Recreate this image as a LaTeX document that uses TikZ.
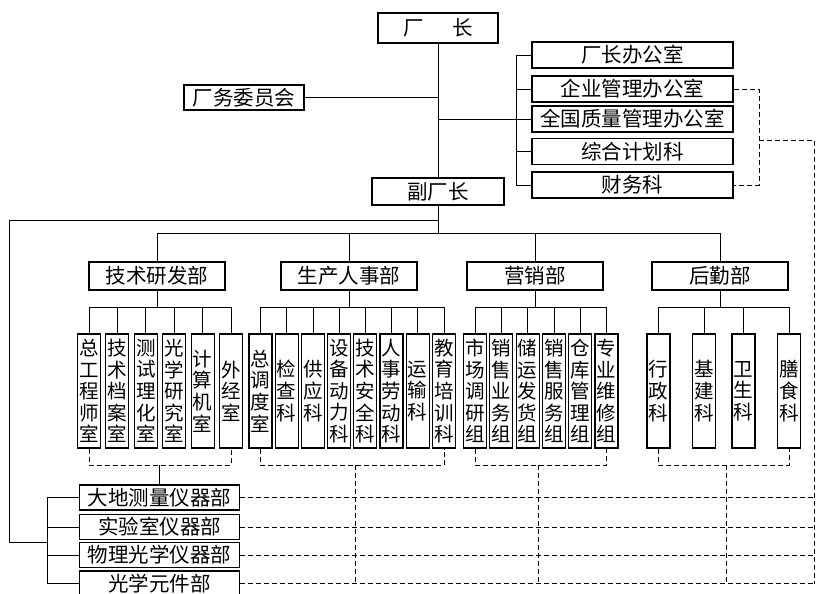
\documentclass[tikz,border=0pt]{standalone}
\usepackage{fontspec}
\newfontfamily\cjk{Noto Sans CJK SC}
\begin{document}
\begin{tikzpicture}[x=1pt,y=-1pt,
  box/.style={draw, line width=1.1pt, inner sep=0pt, font=\cjk\fontsize{20.5}{24}\selectfont},
  vbox/.style={draw, line width=1.1pt, minimum width=23pt, minimum height=114pt, inner sep=0pt, align=center, font=\cjk\fontsize{19.5}{21.6}\selectfont},
  dept/.style={box, minimum width=136pt, minimum height=28pt},
  rbox/.style={box, minimum width=201pt, minimum height=26pt},
  gbox/.style={box, minimum width=160pt, minimum height=25pt},
  conn/.style={line width=0.8pt},
  dsh/.style={line width=0.8pt, dash pattern=on 5pt off 3pt}]
\fill[white] (0,0) rectangle (820,594);
\useasboundingbox (0,0) rectangle (820,594);
% top level
\node[box, minimum width=120pt, minimum height=30pt] (cz) at (438,28) {厂\hspace{1.4em}长};
\node[box, minimum width=132pt, minimum height=27pt] (fcz) at (438,191.5) {副厂长};
\node[box, minimum width=120pt, minimum height=25pt] (wyh) at (244,97.5) {厂务委员会};
\node[rbox] (r1) at (632.5,55) {厂长办公室};
\node[rbox] (r2) at (632.5,89) {企业管理办公室};
\node[rbox] (r3) at (632.5,119) {全国质量管理办公室};
\node[rbox] (r4) at (632.5,151.5) {综合计划科};
\node[rbox] (r5) at (632.5,185) {财务科};
% departments
\node[dept] (ja) at (157,276) {技术研发部};
\node[dept] (sc) at (349,276) {生产人事部};
\node[dept] (yx) at (535,276) {营销部};
\node[dept] (hq) at (720,276) {后勤部};
% children
\node[vbox] (a1) at (89,391) {总\\工\\程\\师\\室};
\node[vbox] (a2) at (117.4,391) {技\\术\\档\\案\\室};
\node[vbox] (a3) at (145.8,391) {测\\试\\理\\化\\室};
\node[vbox] (a4) at (174.2,391) {光\\学\\研\\究\\室};
\node[vbox] (a5) at (202.6,391) {计\\算\\机\\室};
\node[vbox] (a6) at (231,391) {外\\经\\室};
\node[vbox] (b1) at (260.5,391) {总\\调\\度\\室};
\node[vbox] (b2) at (286.7,391) {检\\查\\科};
\node[vbox] (b3) at (312.9,391) {供\\应\\科};
\node[vbox] (b4) at (339.1,391) {设\\备\\动\\力\\科};
\node[vbox] (b5) at (365.3,391) {技\\术\\安\\全\\科};
\node[vbox] (b6) at (391.5,391) {人\\事\\劳\\动\\科};
\node[vbox] (b7) at (417.7,391) {运\\输\\科};
\node[vbox] (b8) at (443.9,391) {教\\育\\培\\训\\科};
\node[vbox] (c1) at (475,391) {市\\场\\调\\研\\组};
\node[vbox] (c2) at (501.3,391) {销\\售\\业\\务\\组};
\node[vbox] (c3) at (527.6,391) {储\\运\\发\\货\\组};
\node[vbox] (c4) at (553.9,391) {销\\售\\服\\务\\组};
\node[vbox] (c5) at (580.2,391) {仓\\库\\管\\理\\组};
\node[vbox] (c6) at (606.5,391) {专\\业\\维\\修\\组};
\node[vbox] (d1) at (658.5,391) {行\\政\\科};
\node[vbox] (d2) at (704,391) {基\\建\\科};
\node[vbox] (d3) at (743.5,391) {卫\\生\\科};
\node[vbox] (d4) at (789,391) {膳\\食\\科};
% bottom groups
\node[gbox] (g1) at (159.5,497.5) {大地测量仪器部};
\node[gbox] (g2) at (159.5,527) {实验室仪器部};
\node[gbox] (g3) at (159.5,555) {物理光学仪器部};
\node[gbox] (g4) at (159.5,583.5) {光学元件部};
% helper coordinates
\coordinate (rb) at (516,0);
\coordinate (yd) at (0,233);
\coordinate (ya) at (0,307);
\coordinate (yb) at (0,465);
\coordinate (ol) at (9,220);
\coordinate (lb) at (47,542);
\coordinate (rd) at (759,140);
\coordinate (rx) at (814,140);
\coordinate (vb) at (355,465);
\coordinate (vc) at (538,465);
\coordinate (vd) at (726,465);
% top connectors
\draw[conn] (cz.south) -- (fcz.north);
\draw[conn] (wyh.east) -- (wyh.east -| cz.south);
\draw[conn] (cz.south |- r3.west) -- (r3.west);
\draw[conn] (rb |- r1.west) -- (rb |- r5.west);
\foreach \r in {r1,r2,r4,r5} \draw[conn] (rb |- \r.west) -- (\r.west);
\draw[dsh] (r2.east) -- (r2.east -| rd) -- (r5.east -| rd) -- (r5.east);
\draw[dsh] (rd) -- (rx) -- (rx |- g4.east);
% department bus
\draw[conn] (fcz.south) -- (fcz.south |- yd);
\draw[conn] (ja.north |- yd) -- (hq.north |- yd);
\foreach \n in {ja,sc,yx,hq} \draw[conn] (\n.north |- yd) -- (\n.north);
\draw[conn] (fcz.south |- ol) -- (ol) |- (lb);
% sub buses
\draw[conn] (ja.south) -- (ja.south |- ya);
\draw[conn] (sc.south) -- (sc.south |- ya);
\draw[conn] (yx.south) -- (yx.south |- ya);
\draw[conn] (hq.south) -- (hq.south |- ya);
\draw[conn] (a1.north |- ya) -- (a6.north |- ya);
\draw[conn] (b1.north |- ya) -- (b8.north |- ya);
\draw[conn] (c1.north |- ya) -- (c6.north |- ya);
\draw[conn] (d1.north |- ya) -- (d4.north |- ya);
\foreach \n in {a1,a2,a3,a4,a5,a6,b1,b2,b3,b4,b5,b6,b7,b8,c1,c2,c3,c4,c5,c6,d1,d2,d3,d4}
  \draw[conn] (\n.north |- ya) -- (\n.north);
% dashed brackets
\draw[dsh] (a1.south) -- (a1.south |- yb) -- (a6.south |- yb) -- (a6.south);
\draw[dsh] (b1.south) -- (b1.south |- yb) -- (b8.south |- yb) -- (b8.south);
\draw[dsh] (c1.south) -- (c1.south |- yb) -- (c6.south |- yb) -- (c6.south);
\draw[dsh] (d1.south) -- (d1.south |- yb) -- (d4.south |- yb) -- (d4.south);
\draw[conn] (g1.north |- yb) -- (g1.north);
\foreach \v in {vb,vc,vd} \draw[dsh] (\v) -- (\v |- g4.east);
% bottom
\draw[conn] (lb |- g1.west) -- (lb |- g4.west);
\foreach \g in {g1,g2,g3,g4} {
  \draw[conn] (lb |- \g.west) -- (\g.west);
  \draw[dsh] (\g.east) -- (\g.east -| rx);
}
\end{tikzpicture}
\end{document}
